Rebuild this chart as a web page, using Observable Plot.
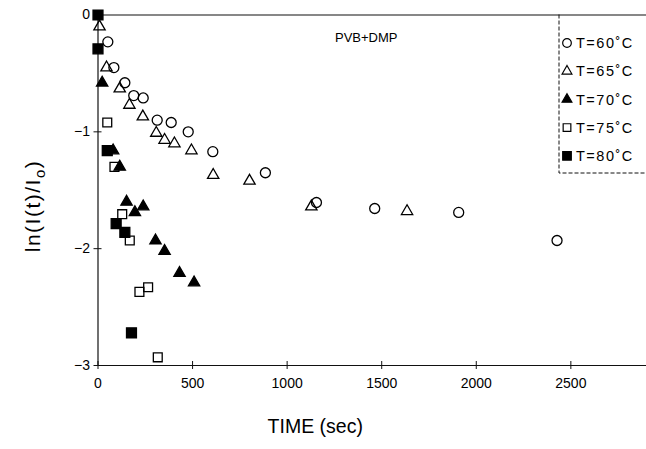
<!DOCTYPE html>
<html><head><meta charset="utf-8">
<script src="https://cdn.jsdelivr.net/npm/d3@7"></script>
<script src="https://cdn.jsdelivr.net/npm/@observablehq/plot@0.6"></script>
<style>body{margin:0;background:#fff} #chart{width:646px;height:449px}</style>
</head><body><div id="chart"></div>
<script>
const xTicks = [0, 500, 1000, 1500, 2000, 2500];
const yTicks = [0, -1, -2, -3];
const seriesLabels = ["T=60˚C", "T=65˚C", "T=70˚C", "T=75˚C", "T=80˚C"];
const time60 = [52, 84, 142, 189, 239, 313, 387, 477, 607, 885, 1155, 1463, 1907, 2427];
const ln60 = [-0.23, -0.45, -0.58, -0.69, -0.71, -0.90, -0.92, -1.00, -1.17, -1.35, -1.605, -1.656, -1.69, -1.93];
const time65 = [8, 45, 115, 166, 237, 308, 352, 404, 494, 609, 801, 1128, 1634];
const ln65 = [-0.10, -0.45, -0.63, -0.77, -0.87, -1.01, -1.07, -1.10, -1.16, -1.37, -1.42, -1.64, -1.68];
const time70 = [22, 80, 115, 151, 195, 239, 304, 352, 431, 508];
const ln70 = [-0.58, -1.16, -1.30, -1.60, -1.69, -1.64, -1.93, -2.02, -2.21, -2.29];
const time75 = [49, 87, 128, 168, 219, 265, 316];
const ln75 = [-0.92, -1.30, -1.705, -1.93, -2.37, -2.33, -2.93];
const time80 = [0, 0, 49, 96, 142, 177];
const ln80 = [0, -0.29, -1.16, -1.785, -1.86, -2.72];
const annotation = "PVB+DMP";
const xTitle = "TIME (sec)";

const mk = (t, v) => t.map((x, i) => ({x, y: v[i]}));
const FONT = "'Liberation Sans', Arial, Helvetica, sans-serif";

const styles = [
  {symbol: "circle", r: 5, fill: "none"},
  {symbol: "triangle", r: 4.2, fill: "none"},
  {symbol: "triangle", r: 4.2, fill: "black"},
  {symbol: "square", r: 5, fill: "none"},
  {symbol: "square", r: 5.6, fill: "black"}
];
const datasets = [mk(time60, ln60), mk(time65, ln65), mk(time70, ln70), mk(time75, ln75), mk(time80, ln80)];
const dotMark = (k) => Plot.dot(datasets[k], {x: "x", y: "y", symbol: styles[k].symbol, r: styles[k].r,
  fill: styles[k].fill, stroke: "black", strokeWidth: 1.3});

const plot = Plot.plot({
  width: 646, height: 449,
  marginLeft: 97.5, marginRight: 0, marginTop: 14.5, marginBottom: 84,
  x: {domain: [0, 2900]},
  y: {domain: [-3, 0]},
  style: {fontFamily: FONT, background: "white", color: "black"},
  marks: [
    Plot.ruleY([0, -3], {stroke: "#111", strokeWidth: 1.2}),
    Plot.ruleX([0], {stroke: "#111", strokeWidth: 1.2}),
    Plot.ruleX(xTicks, {x: d => d, y1: -3, y2: -3, insetTop: -4, insetBottom: -4, stroke: "#111"}),
    Plot.ruleY(yTicks, {y: d => d, x1: 0, x2: 0, insetLeft: -4, insetRight: -4, stroke: "#111"}),
    Plot.axisX(xTicks, {tickSize: 0, tickPadding: 13, fontSize: 14, label: null, tickFormat: d3.format("d")}),
    Plot.axisY(yTicks, {tickSize: 0, tickPadding: 8, fontSize: 14, label: null,
      tickFormat: d => d === 0 ? "0" : "\u2212" + Math.abs(d)}),
    Plot.text([xTitle], {text: d => d, frameAnchor: "bottom", dx: -57, dy: 67, fontSize: 19.5}),
    Plot.text([annotation], {text: d => d, frameAnchor: "top-left", dx: 237, dy: 18, textAnchor: "start", fontSize: 13}),
    dotMark(0), dotMark(1), dotMark(3), dotMark(2), dotMark(4)
  ]
});
document.getElementById("chart").appendChild(plot);

// y-axis title with subscript, and legend
const svg = d3.select(plot);
const yt = svg.append("text")
  .attr("transform", "translate(40,206) rotate(-90)")
  .attr("text-anchor", "middle").attr("font-size", 21).attr("letter-spacing", 1.5)
  .attr("font-family", FONT).attr("fill", "black");
yt.append("tspan").text("ln(I(t)/I");
yt.append("tspan").attr("font-size", 15).attr("dy", 5).text("o");
yt.append("tspan").attr("dy", -5).text(")");

const lg = svg.append("g");
lg.append("path").attr("d", "M559,14.5V173H646").attr("fill", "none")
  .attr("stroke", "#111").attr("stroke-dasharray", "4,2").attr("stroke-width", 1);
seriesLabels.forEach((lab, i) => {
  const y = 43 + i * 28.2;
  const s = styles[i];
  const sym = s.symbol === "circle" ? d3.symbolCircle : s.symbol === "triangle" ? d3.symbolTriangle : d3.symbolSquare;
  lg.append("path").attr("transform", `translate(567,${y})`)
    .attr("d", d3.symbol(sym, Math.PI * s.r * s.r * 0.75)())
    .attr("fill", s.fill).attr("stroke", "black").attr("stroke-width", 1.2);
  lg.append("text").attr("x", 576).attr("y", y).attr("dy", "0.36em").attr("text-anchor", "start")
    .attr("font-size", 14.5).attr("letter-spacing", 1.5)
    .attr("font-family", FONT).attr("fill", "black").text(lab);
});
</script></body></html>
